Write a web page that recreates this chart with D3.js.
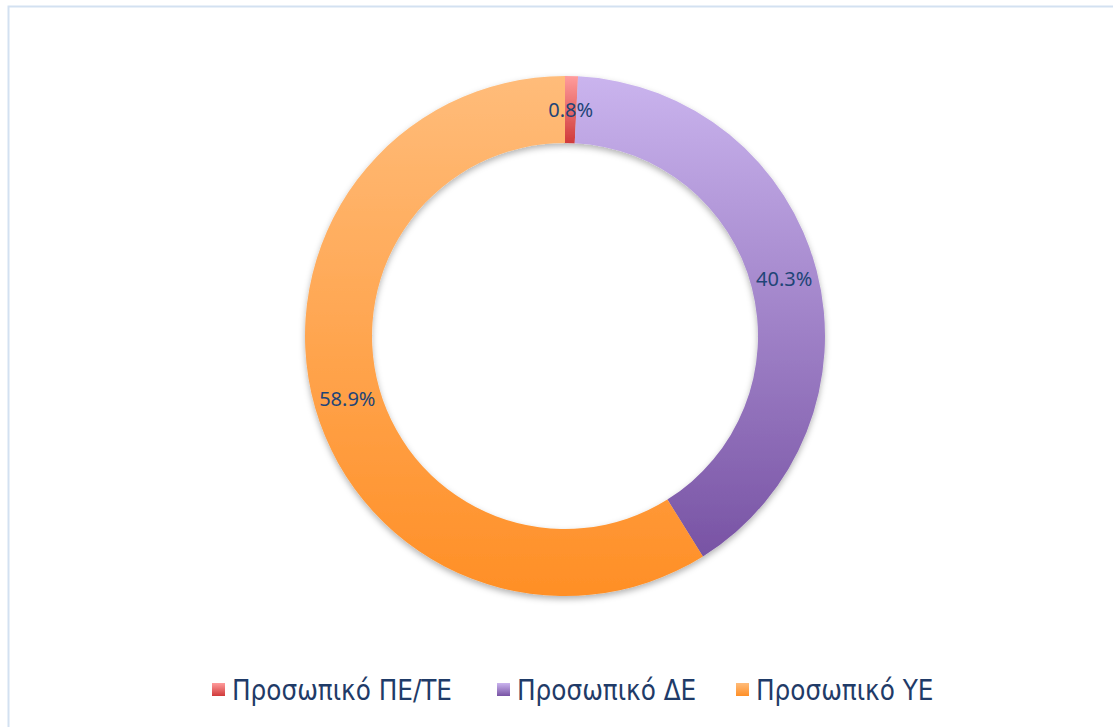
<!DOCTYPE html>
<html lang="el">
<head>
<meta charset="utf-8">
<title>Προσωπικό</title>
<style>
  body { margin: 0; background: #fff; }
</style>
</head>
<body>
<script src="https://cdn.jsdelivr.net/npm/d3@7"></script>
<script>
var categories = ["Προσωπικό ΠΕ/ΤΕ", "Προσωπικό ΔΕ", "Προσωπικό ΥΕ"];
var values = [0.8, 40.3, 58.9];
var labels = ["0.8%", "40.3%", "58.9%"];
var topColors = ["#ff9c9c", "#cab4ee", "#ffbc7a"];
var bottomColors = ["#d03a3a", "#7853a4", "#ff8f26"];

var size = {width: 1113, height: 727};
var cx = 565, cy = 336, outerR = 260, innerR = 193;

var svg = d3.select("body").append("svg")
    .attr("width", size.width)
    .attr("height", size.height);

var defs = svg.append("defs");
categories.forEach(function(c, i) {
    var g = defs.append("linearGradient")
        .attr("id", "grad" + i)
        .attr("x1", 0).attr("y1", 0).attr("x2", 0).attr("y2", 1);
    g.append("stop").attr("offset", "0%").attr("stop-color", topColors[i]);
    g.append("stop").attr("offset", "100%").attr("stop-color", bottomColors[i]);
});
defs.append("filter").attr("id", "shadow")
    .attr("x", "-10%").attr("y", "-10%").attr("width", "120%").attr("height", "120%")
  .append("feDropShadow")
    .attr("dx", 0).attr("dy", 3).attr("stdDeviation", 3)
    .attr("flood-color", "#000").attr("flood-opacity", 0.3);

// chart frame
svg.append("rect")
    .attr("x", 8.5).attr("y", 6.5)
    .attr("width", size.width).attr("height", size.height)
    .attr("fill", "none")
    .attr("stroke", "#d3e1f1")
    .attr("stroke-width", 2);

var pie = d3.pie().sort(null).value(function(d) { return d; });
var arcs = pie(values);
var arc = d3.arc().innerRadius(innerR).outerRadius(outerR);

var ring = svg.append("g")
    .attr("transform", "translate(" + cx + "," + cy + ")");

var slices = ring.append("g").attr("filter", "url(#shadow)");
slices.selectAll("path")
    .data(arcs)
    .enter().append("path")
    .attr("d", arc)
    .attr("fill", function(d, i) { return "url(#grad" + i + ")"; });

ring.selectAll("text")
    .data(arcs)
    .enter().append("text")
    .attr("transform", function(d) { return "translate(" + arc.centroid(d) + ")"; })
    .attr("text-anchor", "middle")
    .attr("dy", "0.35em")
    .attr("font-family", "'Noto Sans', sans-serif")
    .attr("font-size", 20)
    .attr("fill", "#1f4577")
    .text(function(d, i) { return labels[i]; });

// legend
var legendX = [212, 497, 736];
var legend = svg.append("g");
var items = legend.selectAll("g")
    .data(categories)
    .enter().append("g")
    .attr("transform", function(d, i) { return "translate(" + legendX[i] + ",690)"; });
items.append("rect")
    .attr("x", 0).attr("y", -7)
    .attr("width", 13).attr("height", 13)
    .attr("fill", function(d, i) { return "url(#grad" + i + ")"; });
items.append("text")
    .attr("x", 20)
    .attr("dy", "0.35em")
    .attr("font-family", "'DejaVu Sans Condensed', 'DejaVu Sans', sans-serif")
    .attr("font-size", 27.5)
    .attr("fill", "#1f3b68")
    .text(function(d) { return d; });
</script>
</body>
</html>
